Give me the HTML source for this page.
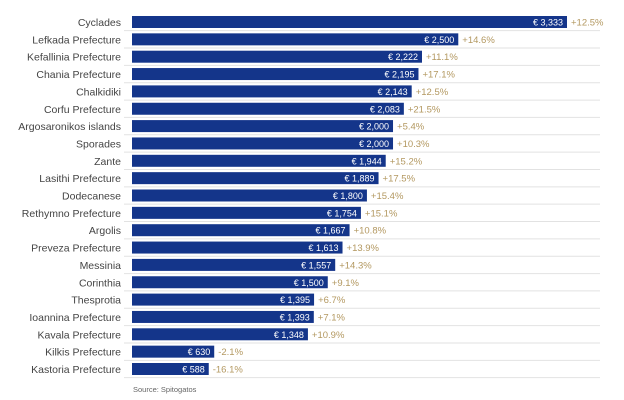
<!DOCTYPE html>
<html><head><meta charset="utf-8"><style>
body{margin:0;background:#fff;width:624px;height:400px;overflow:hidden;font-family:"Liberation Sans",sans-serif}
svg{display:block}
</style></head><body>
<svg id="chart" width="624" height="400"></svg>
<script>
const categories=["Cyclades","Lefkada Prefecture","Kefallinia Prefecture","Chania Prefecture","Chalkidiki","Corfu Prefecture","Argosaronikos islands","Sporades","Zante","Lasithi Prefecture","Dodecanese","Rethymno Prefecture","Argolis","Preveza Prefecture","Messinia","Corinthia","Thesprotia","Ioannina Prefecture","Kavala Prefecture","Kilkis Prefecture","Kastoria Prefecture"];
const values=[3333,2500,2222,2195,2143,2083,2000,2000,1944,1889,1800,1754,1667,1613,1557,1500,1395,1393,1348,630,588];
const changes=["+12.5%","+14.6%","+11.1%","+17.1%","+12.5%","+21.5%","+5.4%","+10.3%","+15.2%","+17.5%","+15.4%","+15.1%","+10.8%","+13.9%","+14.3%","+9.1%","+6.7%","+7.1%","+10.9%","-2.1%","-16.1%"];
const NS="http://www.w3.org/2000/svg";
const svg=document.getElementById('chart');
const x0=132, scale=(567-132)/3333, y0=22, pitch=17.35, bh=12;
const xs=v=>x0+v*scale;
const ys=i=>y0+i*pitch;
function mk(t,a){const e=document.createElementNS(NS,t);for(const k in a)e.setAttribute(k,a[k]);svg.appendChild(e);return e;}
categories.forEach((c,i)=>{
  const yc=ys(i);
  const g=mk('line',{x1:124,x2:600,y1:yc+pitch/2,y2:yc+pitch/2,stroke:'#e2e2e2','stroke-width':1});
  
  
  const l=mk('text',{x:121,y:yc+4,'text-anchor':'end','font-size':'10.5',fill:'#444'});
  l.textContent=c;
  
  
  const r=mk('rect',{x:x0,y:yc-bh/2,width:xs(values[i])-x0,height:bh,fill:'#14358a'});
  
  
  const v=mk('text',{x:xs(values[i])-4,y:yc+3.5,'text-anchor':'end','font-size':'9',fill:'#fff'});
  v.textContent='€ '+values[i].toLocaleString('en-US');
  
  
  const p=mk('text',{x:xs(values[i])+4,y:yc+3.5,'font-size':'9.5',fill:'#b39860'});
  p.textContent=changes[i];
  
  
});
const s=mk('text',{x:133,y:392,'font-size':'7.5',fill:'#666'});
s.textContent='Source: Spitogatos';


</script>
</body></html>
